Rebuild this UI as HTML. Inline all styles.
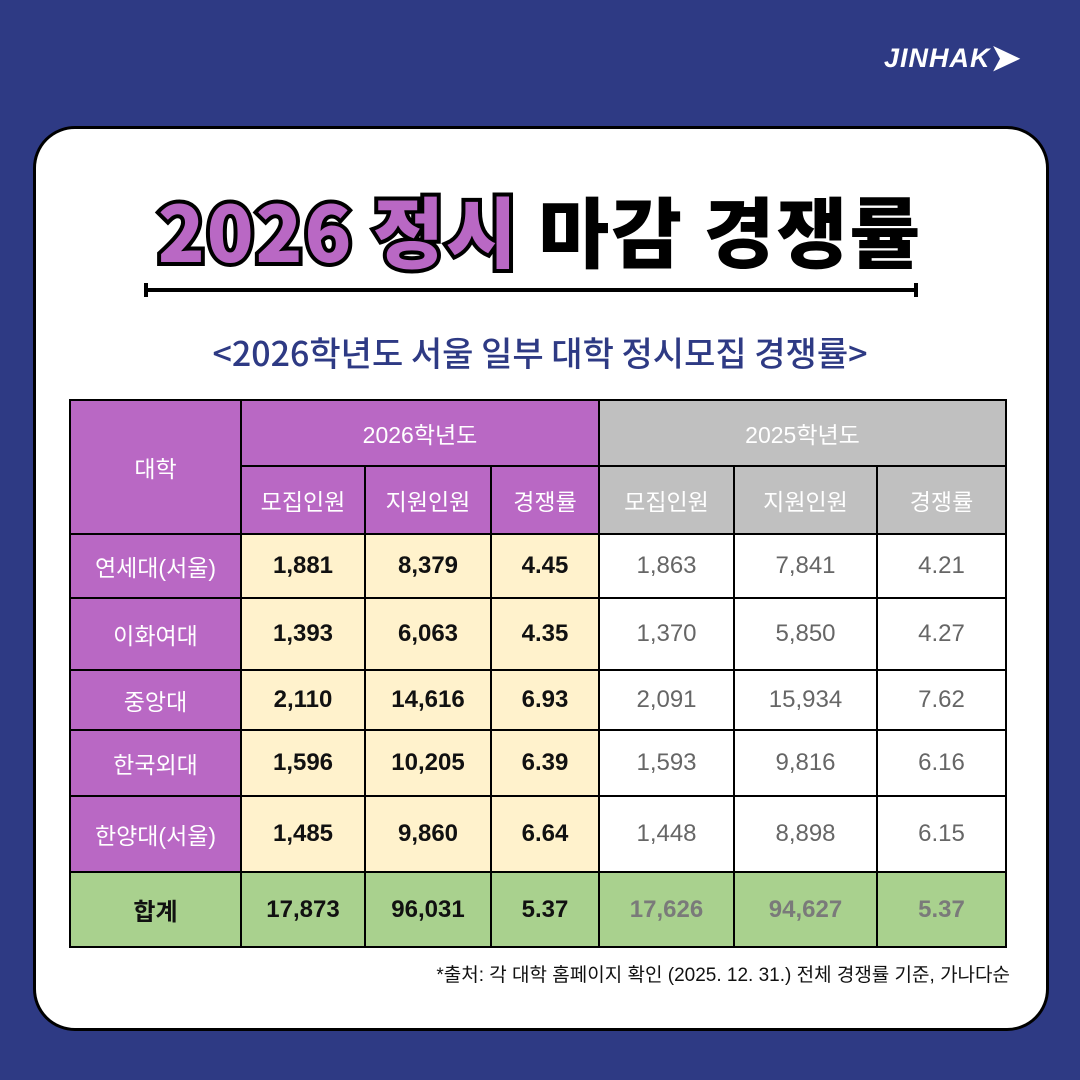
<!DOCTYPE html>
<html><head><meta charset="utf-8"><style>
*{margin:0;padding:0;box-sizing:border-box}
body{width:1080px;height:1080px;background:#2E3A84;position:relative;overflow:hidden;font-family:"Liberation Sans","Noto Sans CJK KR",sans-serif}
.card{position:absolute;left:33px;top:126px;width:1016px;height:905px;background:#fff;border:3px solid #000;border-radius:42px}
.logo{position:absolute;left:884px;top:34px;color:#fff;font-weight:bold;font-style:italic;font-size:27px;letter-spacing:1px}
.title{position:absolute;left:0;width:1080px;top:182px;text-align:center;font-family:"Noto Sans CJK KR",sans-serif;font-weight:900;font-size:77px;line-height:96px;letter-spacing:2px}
.title span.p{color:#B968C4;-webkit-text-stroke:8px #000;paint-order:stroke fill}
.title span.b{color:#000}
.line{position:absolute;left:146px;top:288px;width:771px;height:4px;background:#000}
.cap{position:absolute;top:283px;width:4px;height:14px;background:#000}
.sub{position:absolute;left:0;width:1080px;top:330px;text-align:center;color:#2E3A84;font-size:34px;font-weight:500;font-family:"Noto Sans CJK KR",sans-serif;line-height:44px}
table{position:absolute;left:69px;top:399px;border-collapse:collapse;font-family:"Liberation Sans","Noto Sans CJK KR",sans-serif}
td{border:2px solid #000;text-align:center;font-size:24px;padding:0}
.pu{background:#B968C4;color:#fff;font-size:23px}
.gr{background:#C0C0C0;color:#fff;font-size:23px}
.ye{background:#FFF2CC;font-weight:bold;color:#111}
.wh{background:#fff;color:#666}
.gn{background:#A9D18E;font-weight:bold;color:#111}
.gn2{background:#A9D18E;font-weight:bold;color:#7a7a7a}
.note{position:absolute;right:70px;top:960px;font-size:19px;color:#111}
</style></head><body>
<div class="logo">JINHAK<span style="font-style:normal;font-size:36px;position:relative;top:3px">➤</span></div>
<div class="card"></div>
<div class="title"><span class="p">2026 정시</span> <span class="b">마감 경쟁률</span></div>
<div class="line"></div>
<div class="cap" style="left:144px"></div>
<div class="cap" style="left:914px"></div>
<div class="sub">&lt;2026학년도 서울 일부 대학 정시모집 경쟁률&gt;</div>
<table>
<colgroup><col style="width:171px"><col style="width:124px"><col style="width:126px"><col style="width:108px"><col style="width:135px"><col style="width:143px"><col style="width:129px"></colgroup>
<tr style="height:66px"><td class="pu" rowspan="2">대학</td><td class="pu" colspan="3">2026학년도</td><td class="gr" colspan="3">2025학년도</td></tr>
<tr style="height:68px"><td class="pu">모집인원</td><td class="pu">지원인원</td><td class="pu">경쟁률</td><td class="gr">모집인원</td><td class="gr">지원인원</td><td class="gr">경쟁률</td></tr>
<tr style="height:64px"><td class="pu">연세대(서울)</td><td class="ye">1,881</td><td class="ye">8,379</td><td class="ye">4.45</td><td class="wh">1,863</td><td class="wh">7,841</td><td class="wh">4.21</td></tr>
<tr style="height:72px"><td class="pu">이화여대</td><td class="ye">1,393</td><td class="ye">6,063</td><td class="ye">4.35</td><td class="wh">1,370</td><td class="wh">5,850</td><td class="wh">4.27</td></tr>
<tr style="height:60px"><td class="pu">중앙대</td><td class="ye">2,110</td><td class="ye">14,616</td><td class="ye">6.93</td><td class="wh">2,091</td><td class="wh">15,934</td><td class="wh">7.62</td></tr>
<tr style="height:66px"><td class="pu">한국외대</td><td class="ye">1,596</td><td class="ye">10,205</td><td class="ye">6.39</td><td class="wh">1,593</td><td class="wh">9,816</td><td class="wh">6.16</td></tr>
<tr style="height:76px"><td class="pu">한양대(서울)</td><td class="ye">1,485</td><td class="ye">9,860</td><td class="ye">6.64</td><td class="wh">1,448</td><td class="wh">8,898</td><td class="wh">6.15</td></tr>
<tr style="height:75px"><td class="gn">합계</td><td class="gn">17,873</td><td class="gn">96,031</td><td class="gn">5.37</td><td class="gn2">17,626</td><td class="gn2">94,627</td><td class="gn2">5.37</td></tr>
</table>
<div class="note">*출처: 각 대학 홈페이지 확인 (2025. 12. 31.) 전체 경쟁률 기준, 가나다순</div>
</body></html>
